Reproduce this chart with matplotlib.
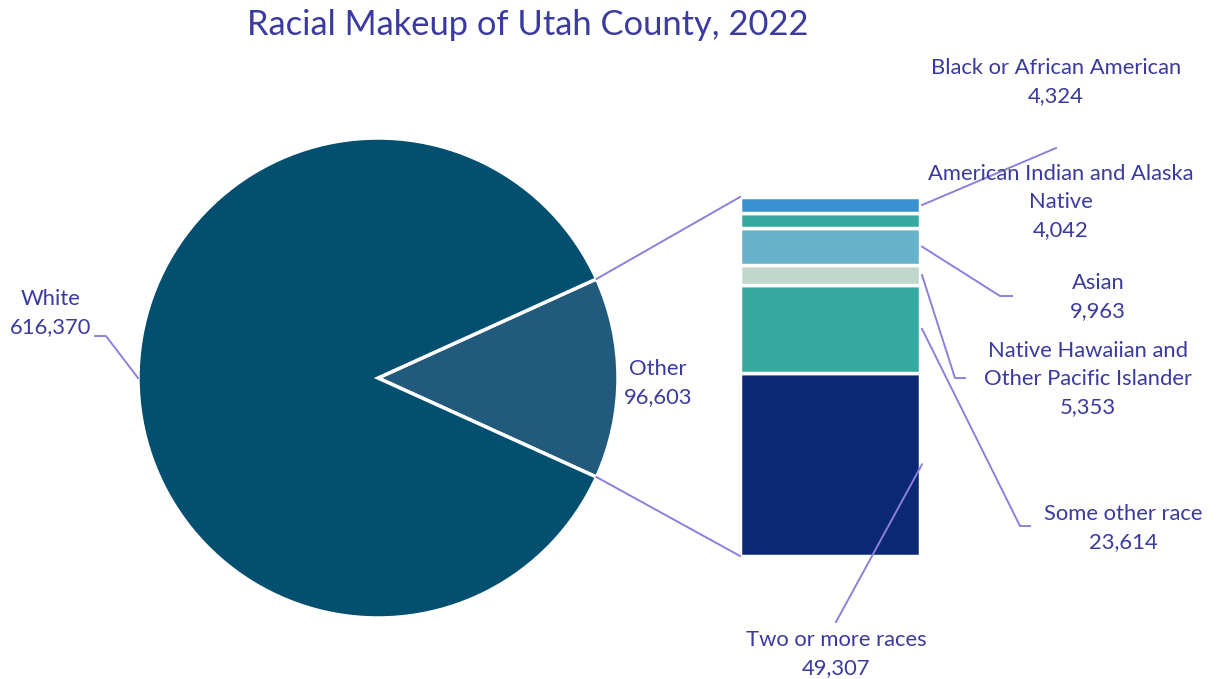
import numpy as np
import matplotlib.pyplot as plt

# Data
pie_labels = ['Other', 'White']
pie_values = [96603, 616370]
bar_labels = ['Black or African American', 'American Indian and Alaska\nNative', 'Asian',
              'Native Hawaiian and\nOther Pacific Islander', 'Some other race', 'Two or more races']
bar_values = [4324, 4042, 9963, 5353, 23614, 49307]
title = 'Racial Makeup of Utah County, 2022'

# Styling
pie_colors = ['#215a7d', '#034f70']
bar_colors = ['#3a91d0', '#35a99f', '#67b1ca', '#c0d8cb', '#36aaa0', '#0b2874']
txt_color = '#3b3a9e'
line_color = '#8d80dd'
plt.rcParams['font.family'] = ['Lato', 'DejaVu Sans']

W, H = 1221, 679
fig = plt.figure(figsize=(W / 100, H / 100), dpi=100)
ax = fig.add_axes([0, 0, 1, 1])

# Pie (pixel coords, y upward)
cx, cy, r = 378, H - 378, 240
other_angle = pie_values[0] / sum(pie_values) * 360
ax.pie(pie_values, colors=pie_colors, center=(cx, cy), radius=r,
       startangle=-other_angle / 2, counterclock=True,
       wedgeprops=dict(edgecolor='white', linewidth=2.5), frame=True)
ax.set_xlim(0, W)
ax.set_ylim(0, H)
ax.axis('off')

# Stacked bar for "Other"
bar_x, bar_w = 830, 180
bar_top, bar_bot = H - 197, H - 556
scale = (bar_top - bar_bot) / sum(bar_values)
heights = np.array(bar_values[::-1]) * scale
bottoms = bar_bot + np.concatenate([[0], np.cumsum(heights)[:-1]])
ax.bar([bar_x] * len(heights), heights, bottom=bottoms, width=bar_w,
       color=bar_colors[::-1], edgecolor='white', linewidth=2.5)
mids = (bottoms + heights / 2)[::-1]  # top-to-bottom order
right = bar_x + bar_w / 2 + 2

# Connector lines pie -> bar
a = np.radians(other_angle / 2)
ax.plot([cx + r * np.cos(a), bar_x - bar_w / 2], [cy + r * np.sin(a), bar_top], color=line_color, lw=1.4)
ax.plot([cx + r * np.cos(a), bar_x - bar_w / 2], [cy - r * np.sin(a), bar_bot], color=line_color, lw=1.4)

fs = 15.8
ls = 1.5
# Pie labels
ax.text(51, H - 313, 'White\n616,370', ha='center', va='center', color=txt_color, fontsize=fs, linespacing=ls)
ax.plot([cx - r, 106, 95], [cy, H - 336, H - 336], color=line_color, lw=1.4)
ax.text(658, H - 383, 'Other\n96,603', ha='center', va='center', color=txt_color, fontsize=fs, linespacing=ls)

# Bar labels: text position and leader elbow points
label_pos = [(1056, H - 82), (1061, H - 202), (1098, H - 297), (1088, H - 379), (1123, H - 528), (836, H - 654)]
leaders = [
    [(1056, H - 148)],
    None,
    [(1000, H - 296), (1012, H - 296)],
    [(955, H - 378), (965, H - 378)],
    [(1020, H - 526), (1030, H - 526)],
    [(836, H - 622)],
]
for i, (lab, val) in enumerate(zip(bar_labels, bar_values)):
    x, y = label_pos[i]
    ax.text(x, y, f'{lab}\n{val:,}', ha='center', va='center', color=txt_color, fontsize=fs, linespacing=ls)
    if leaders[i]:
        xs, ys = zip(*([(right, mids[i])] + leaders[i]))
        ax.plot(xs, ys, color=line_color, lw=1.4)

ax.text(528, H - 25, title, ha='center', va='center', color=txt_color, fontsize=24.8)

fig.savefig('out.png', dpi=100, facecolor='white')
